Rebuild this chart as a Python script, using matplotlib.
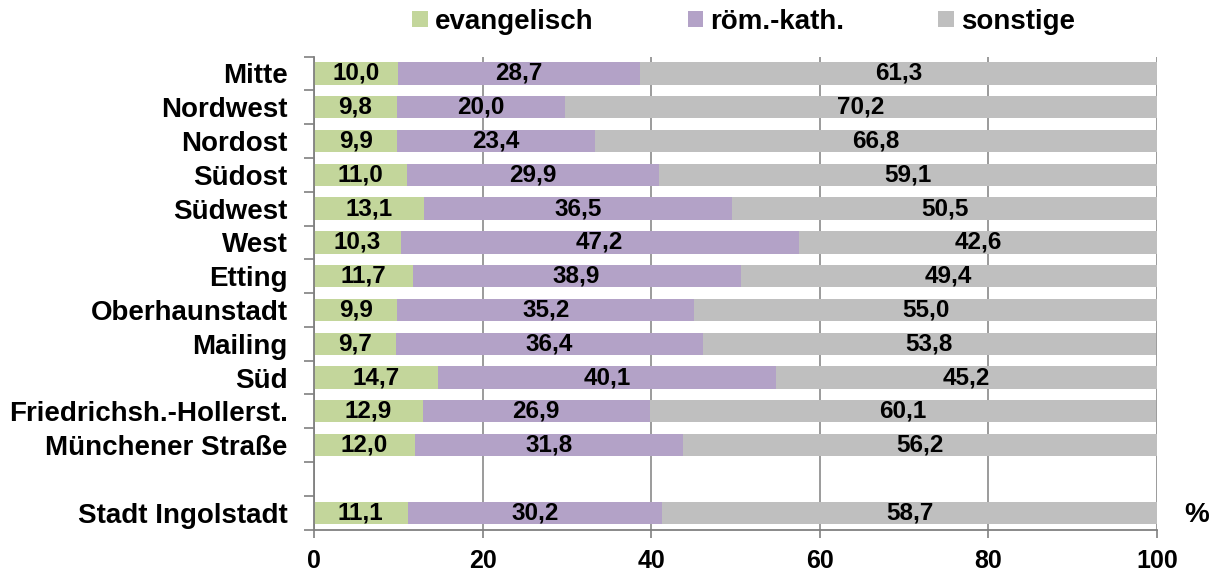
import matplotlib.pyplot as plt
import numpy as np

plt.rcParams["font.family"] = ["Liberation Sans", "DejaVu Sans"]
plt.rcParams["font.weight"] = "bold"

districts = [
    "Mitte", "Nordwest", "Nordost", "Südost", "Südwest", "West", "Etting",
    "Oberhaunstadt", "Mailing", "Süd", "Friedrichsh.-Hollerst.",
    "Münchener Straße", "Stadt Ingolstadt",
]
evangelisch = [10.0, 9.8, 9.9, 11.0, 13.1, 10.3, 11.7, 9.9, 9.7, 14.7, 12.9, 12.0, 11.1]
roem_kath = [28.7, 20.0, 23.4, 29.9, 36.5, 47.2, 38.9, 35.2, 36.4, 40.1, 26.9, 31.8, 30.2]
sonstige = [61.3, 70.2, 66.8, 59.1, 50.5, 42.6, 49.4, 55.0, 53.8, 45.2, 60.1, 56.2, 58.7]

series = {
    "evangelisch": (evangelisch, "#c3d69b"),
    "röm.-kath.": (roem_kath, "#b3a2c7"),
    "sonstige": (sonstige, "#bfbfbf"),
}

# gap of one slot before the city total
ypos = np.array(list(range(12)) + [13])

fig = plt.figure(figsize=(12.17, 5.75), dpi=100)
ax = fig.add_axes([0.258, 0.079, 0.6927, 0.8226])

left = np.zeros(len(districts))
for name, (vals, col) in series.items():
    vals = np.array(vals)
    ax.barh(ypos, vals, height=0.66, left=left, color=col, label=name, zorder=2)
    for y, l, v in zip(ypos, left, vals):
        ax.text(l + v / 2, y, f"{v:.1f}".replace(".", ","), ha="center", va="center",
                fontsize=17.5, fontweight="bold", zorder=3)
    left += vals

ax.set_xlim(0, 100)
ax.set_ylim(13.5, -0.5)
ax.set_xticks([0, 20, 40, 60, 80, 100])
ax.tick_params(axis="x", labelsize=18, length=6, color="#808080", width=1.2, pad=8)
ax.grid(axis="x", color="#808080", linewidth=1.1, zorder=0)

ax.set_yticks(ypos)
ax.set_yticklabels(districts, fontsize=20)
ax.tick_params(axis="y", length=0, pad=19)
ax.set_yticks(np.arange(-0.5, 14, 1), minor=True)
ax.tick_params(axis="y", which="minor", length=7, color="#808080", width=1.2)

for s in ["top", "right"]:
    ax.spines[s].set_visible(False)
for s in ["left", "bottom"]:
    ax.spines[s].set_color("#808080")
    ax.spines[s].set_linewidth(1.3)

fig.text(0.983, 0.104, "%", fontsize=20, fontweight="bold", ha="center", va="center")

fig.legend(loc="center", bbox_to_anchor=(0.611, 0.962), ncol=3, frameon=False,
           fontsize=20, handlelength=0.55, handleheight=0.55, handletextpad=0.25,
           columnspacing=3.4)

fig.savefig("out.png", dpi=100)
